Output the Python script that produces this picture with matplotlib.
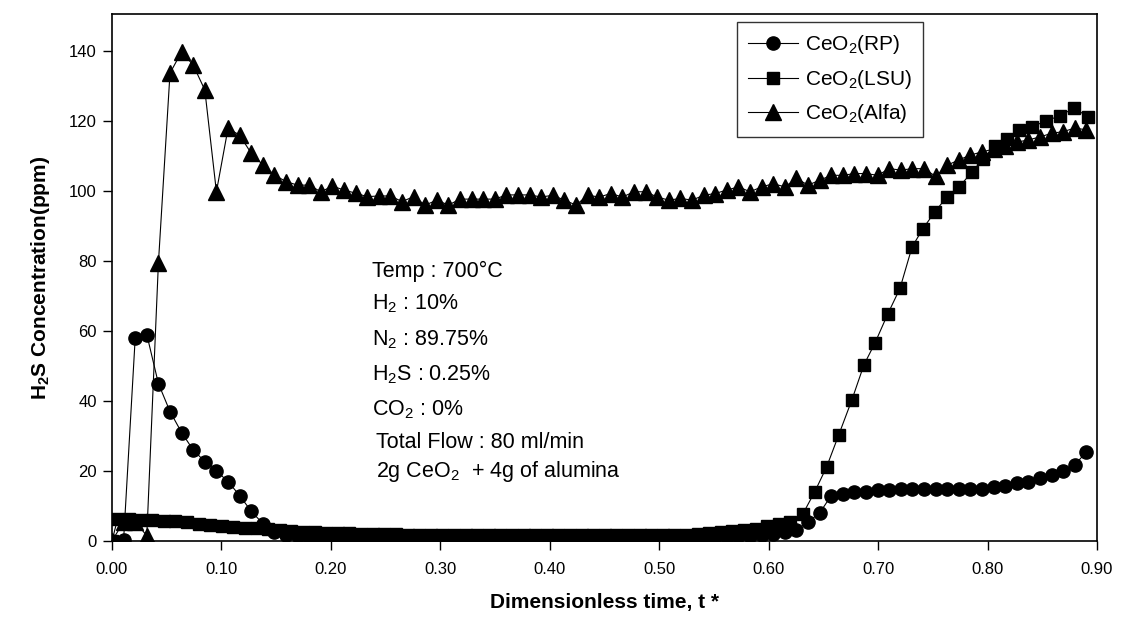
import matplotlib
matplotlib.use("Agg")
import matplotlib.pyplot as plt

plt.rcParams['font.family'] = ['Liberation Sans', 'DejaVu Sans']
plt.rcParams['mathtext.fontset'] = 'custom'
plt.rcParams['mathtext.rm'] = 'Liberation Sans'
plt.rcParams['mathtext.it'] = 'Liberation Sans:italic'
plt.rcParams['mathtext.bf'] = 'Liberation Sans:bold'

# ---------------- data ----------------
t_rp_alfa = [0.0, 0.0106, 0.0212, 0.0318, 0.0424, 0.053, 0.0636, 0.0742, 0.0848, 0.0954,
             0.106, 0.1166, 0.1272, 0.1378, 0.1484, 0.159, 0.1696, 0.1802, 0.1908, 0.2014,
             0.212, 0.2226, 0.2332, 0.2438, 0.2544, 0.265, 0.2756, 0.2862, 0.2968, 0.3074,
             0.318, 0.3286, 0.3392, 0.3498, 0.3604, 0.371, 0.3816, 0.3922, 0.4028, 0.4134,
             0.424, 0.4346, 0.4452, 0.4558, 0.4664, 0.477, 0.4876, 0.4982, 0.5088, 0.5194,
             0.53, 0.5406, 0.5512, 0.5618, 0.5724, 0.583, 0.5936, 0.6042, 0.6148, 0.6254,
             0.636, 0.6466, 0.6572, 0.6678, 0.6784, 0.689, 0.6996, 0.7102, 0.7208, 0.7314,
             0.742, 0.7526, 0.7632, 0.7738, 0.7844, 0.795, 0.8056, 0.8162, 0.8268, 0.8374,
             0.848, 0.8586, 0.8692, 0.8798, 0.8904]

rp = [0, 0.3, 58, 59, 45, 37, 31, 26, 22.7, 20,
      17, 13, 8.5, 5, 2.7, 1.8, 1.3, 1.1, 1.0, 1.0,
      1.0, 0.9, 1.0, 1.0, 0.9, 1.0, 1.0, 0.9, 1.0, 1.0,
      1.0, 0.9, 1.0, 1.0, 1.0, 0.9, 1.0, 1.0, 1.0, 1.0,
      0.9, 1.0, 1.0, 1.0, 1.0, 1.0, 0.9, 1.0, 1.0, 1.0,
      1.0, 1.0, 1.1, 1.2, 1.3, 1.5, 1.8, 2.0, 2.5, 3.2,
      5.5, 8.0, 13.0, 13.5, 14.0, 14.0, 14.5, 14.5, 15.0, 15.0,
      15.0, 15.0, 15.0, 15.0, 15.0, 15.0, 15.5, 15.8, 16.5, 17.0,
      18.0, 19.0, 20.0, 21.8, 25.5]

alfa = [0, 5.5, 5.5, 1.5, 79.4, 133.7, 139.8, 136, 128.9, 99.8,
        117.9, 116, 110.8, 107.5, 104.6, 102.7, 101.7, 101.7, 99.8, 101.4,
        100.3, 99.4, 98.4, 98.6, 98.6, 97, 98.4, 96, 97.4, 96,
        97.7, 97.7, 97.7, 97.7, 98.9, 98.9, 98.9, 98.3, 98.8, 97.4,
        96, 98.8, 98.3, 99.3, 98.3, 99.8, 99.8, 98.3, 97.4, 97.9,
        97.4, 98.8, 99.3, 100.3, 101.2, 99.8, 101.2, 102.1, 101.2, 103.6,
        101.7, 103.1, 104.5, 104.5, 105, 105, 104.5, 106.4, 106, 106.4,
        106.4, 104.2, 107.4, 108.9, 110.3, 111.2, 112, 113, 114, 114.6,
        115.5, 116.5, 117, 118, 117.5]

t_lsu = [0.0, 0.005, 0.0156, 0.0262, 0.0368, 0.0474, 0.058, 0.0686, 0.0792, 0.0898, 0.1004,
         0.111, 0.1216, 0.1322, 0.1428, 0.1534, 0.164, 0.1746, 0.1852, 0.1958, 0.2064,
         0.217, 0.2276, 0.2382, 0.2488, 0.2594, 0.27, 0.2806, 0.2912, 0.3018, 0.3124,
         0.323, 0.3336, 0.3442, 0.3548, 0.3654, 0.376, 0.3866, 0.3972, 0.4078, 0.4184,
         0.429, 0.4396, 0.4502, 0.4608, 0.4714, 0.482, 0.4926, 0.5032, 0.5138, 0.5244,
         0.535, 0.5456, 0.5562, 0.5668, 0.5774, 0.588, 0.5986, 0.6092, 0.6198,
         0.631, 0.642, 0.653, 0.664, 0.676, 0.687, 0.697, 0.709, 0.72, 0.731,
         0.741, 0.752, 0.763, 0.774, 0.786, 0.796, 0.807, 0.818, 0.829, 0.841,
         0.853, 0.866, 0.879, 0.892]

lsu = [0.0, 6.2, 6.2, 6.1, 6.0, 5.8, 5.6, 5.3, 5.0, 4.7, 4.4,
       4.1, 3.8, 3.6, 3.3, 3.1, 2.9, 2.7, 2.5, 2.4, 2.3,
       2.2, 2.1, 2.0, 1.9, 1.9, 1.8, 1.8, 1.8, 1.8, 1.8,
       1.8, 1.8, 1.8, 1.8, 1.8, 1.8, 1.8, 1.8, 1.8, 1.8,
       1.8, 1.8, 1.8, 1.8, 1.8, 1.8, 1.8, 1.8, 1.8, 1.8,
       1.9, 2.2, 2.5, 3.0, 3.2, 3.5, 4.2, 4.8, 5.5,
       7.6, 14, 21.2, 30.3, 40.3, 50.3, 56.5, 65, 72.2, 84,
       89.3, 94.1, 98.4, 101.2, 105.5, 109.3, 113, 115, 117.4, 118.4,
       120, 121.5, 123.7, 121.2]

series_labels = [r'CeO$_2$(RP)', r'CeO$_2$(LSU)', r'CeO$_2$(Alfa)']
x_ticks = [0.0, 0.1, 0.2, 0.3, 0.4, 0.5, 0.6, 0.7, 0.8, 0.9]
y_ticks = [0, 20, 40, 60, 80, 100, 120, 140]
notes = [r'Temp : 700°C', r'H$_2$ : 10%', r'N$_2$ : 89.75%', r'H$_2$S : 0.25%',
         r'CO$_2$ : 0%', 'Total Flow : 80 ml/min', r'2g CeO$_2$  + 4g of alumina']

# ---------------- figure ----------------
W, H = 1127, 617
fig = plt.figure(figsize=(W / 100, H / 100), dpi=100)
ax = fig.add_axes([112 / W, 76 / H, 985 / W, 527 / H])

ax.plot(t_rp_alfa, rp, color='black', lw=0.8, marker='o', ms=9.5, mfc='black', mec='black',
        label=series_labels[0], zorder=3)
ax.plot(t_lsu, lsu, color='black', lw=0.8, marker='s', ms=9, mfc='black', mec='black',
        label=series_labels[1], zorder=3)
ax.plot(t_rp_alfa, alfa, color='black', lw=0.8, marker='^', ms=11, mfc='black', mec='black',
        label=series_labels[2], zorder=3)

ax.set_xlim(0, 0.9)
ax.set_ylim(0, 150.6)
ax.set_xticks(x_ticks)
ax.set_xticklabels([f'{v:.2f}' for v in x_ticks])
ax.set_yticks(y_ticks)
ax.tick_params(axis='both', direction='out', length=6.5, width=1, labelsize=12)
ax.tick_params(axis='x', pad=8.6)
ax.tick_params(axis='y', pad=4.5)
for s in ax.spines.values():
    s.set_linewidth(1.2)
    s.set_color('black')

ax.set_xlabel('Dimensionless time, t *', fontsize=15, fontweight='bold', labelpad=11.5)
ax.set_ylabel(r'H$_\mathbf{2}$S Concentration(ppm)', fontsize=15, fontweight='bold', labelpad=12)

note_y = [77, 67.7, 57.6, 47.6, 37.6, 28.2, 19.9]
note_x = [0.238, 0.238, 0.238, 0.238, 0.238, 0.241, 0.241]
for txt, xx, yy in zip(notes, note_x, note_y):
    ax.text(xx, yy, txt, fontsize=15.5, va='center', ha='left', color='black')

leg = ax.legend(loc='upper left', bbox_to_anchor=((737 - 112) / 985, (541 - 22) / 527),
                borderaxespad=0, frameon=True, fancybox=False, fontsize=15,
                handlelength=2.4, handletextpad=0.3, labelspacing=0.55, borderpad=0.55,
                edgecolor='black')
leg.get_frame().set_linewidth(1.0)

fig.savefig('out.png', dpi=100)
